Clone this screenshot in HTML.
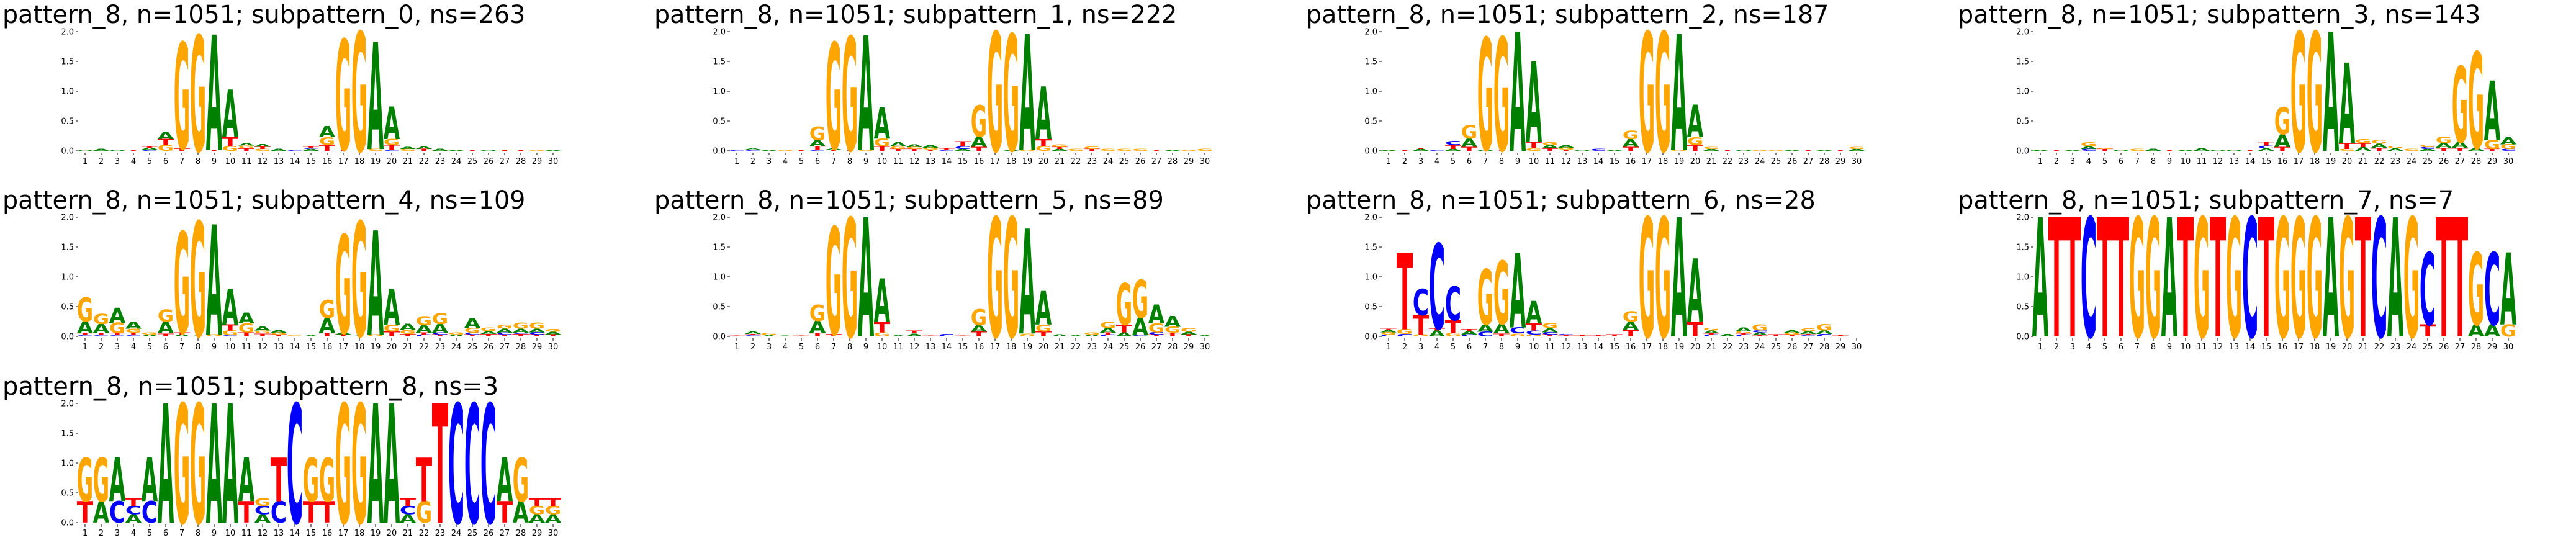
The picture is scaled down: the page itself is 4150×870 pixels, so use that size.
<!DOCTYPE html>
<html><head><meta charset="utf-8"><style>
html,body{margin:0;padding:0;background:#fff;}
svg{display:block;}
</style></head><body>
<svg id="chart" width="4150" height="870" viewBox="0 0 4150 870" xmlns="http://www.w3.org/2000/svg"></svg>
<script>
const titles = [
 "pattern_8, n=1051; subpattern_0, ns=263",
 "pattern_8, n=1051; subpattern_1, ns=222",
 "pattern_8, n=1051; subpattern_2, ns=187",
 "pattern_8, n=1051; subpattern_3, ns=143",
 "pattern_8, n=1051; subpattern_4, ns=109",
 "pattern_8, n=1051; subpattern_5, ns=89",
 "pattern_8, n=1051; subpattern_6, ns=28",
 "pattern_8, n=1051; subpattern_7, ns=7",
 "pattern_8, n=1051; subpattern_8, ns=3"
];
const positions = [1,2,3,4,5,6,7,8,9,10,11,12,13,14,15,16,17,18,19,20,21,22,23,24,25,26,27,28,29,30];
const yTicks = [0.0,0.5,1.0,1.5,2.0];
const yTickLabels = ["0.0","0.5","1.0","1.5","2.0"];
// stacks bottom-to-top, letter followed by height in bits
const logo0 = ["A.02","A.03","A.02","T.01","C.02A.03T.02","G.1T.1A.12","T.04G1.78","G1.94","T.02A1.93","G.08T.15A.8","T.04G.05A.04","G.03T.04A.05","A.03","C.02","A.03C.02T.02","T.1G.13A.19","T.02G1.85","G2.0","G.03A1.8","C.02T.08G.1A.55","G.03A.03","T.03A.04","A.03","A.01","T.01","A.02","T.01","T.02","G.02","A.01"];
const logo1 = ["C.02","C.02A.02","A.01","G.02","T.01","C.02T.06A.1G.22","T.02A.02G1.78","T.01G1.91","G.02A1.92","T.08G.13A.52","T.03G.05A.07","T.03G.03A.05","T.02G.03A.05","C.02T.02","A.03C.05T.08","T.07A.17G.53","G2.0","A.01G1.95","G.01A1.95","G.08T.12A.88","A.03T.03G.05","G.03","T.03G.04","G.03","G.03","G.03","T.02","A.01","G.02","G.03"];
const logo2 = ["A.01","T.01","A.03T.02","C.02","A.03T.07C.07","T.07A.14G.22","A.02G1.88","T.01G1.9","A2.0","G.05T.1A1.35","T.04A.06G.05","T.02G.03A.05","A.02","C.03","A.01","T.07A.13G.14","G2.0","G2.0","G.01A1.95","T.1G.13A.55","A.03G.03","T.01","A.02","G.02","G.02","A.01","T.01","A.01","T.02","A.03G.03"];
const logo3 = ["A.01","T.01","A.01","C.03A.05G.07","T.03G.02","A.02","G.03","A.03","T.02","A.01","A.05","A.02","A.02","T.02","A.04C.05T.07","T.07A.21G.45","G2.0","G2.0","A2.0","G.03T.1A1.35","A.06T.07G.07","T.05A.07G.07","A.04G.04","G.03","A.03C.03G.04","T.05A.08G.11","T.05A.1G1.27","A.05G1.61","T.03G.15A1.0","C.03G.08A.12"];
const logo4 = ["C.02T.03A.2G.4","C.02T.04A.15G.17","C.02T.03G.18A.25","C.02T.04G.07A.12","A.03G.03","T.05A.2G.2","A.03T.03G1.7","A.01G1.92","G.03A1.85","C.02G.08T.1A.6","T.07G.15A.18","T.05G.05A.07","T.03G.03A.05","G.02","A.02","T.06A.25G.3","T.03A.03G1.65","A.01G1.92","G.03A1.75","T.08G.12A.6","T.04G.07A.1","C.03T.03A.13G.15","T.03C.03A.15G.18","A.03G.03","T.03C.03G.08A.17","T.04A.05G.06","T.03C.03A.07G.07","T.04C.02A.07G.1","T.03C.04A.06G.1","T.03A.05G.05"];
const logo5 = ["T.01","C.02T.02A.04","A.02G.03","A.01","T.01","T.06A.2G.27","T.04G1.8","G1.99","A2.0","G.07T.17A.73","A.02","A.05T.05","T.01","C.04","T.01","T.08A.11G.27","G2.0","G2.0","G.05A1.76","T.08G.12A.56","A.03","A.02","A.03G.03","C.03T.03A.08G.1","A.07T.13G.7","C.02A.3G.63","T.03C.04G.15A.32","T.06G.1A.18","T.03A.05G.06","A.02"];
const logo6 = ["C.03G.04A.04T.02","C.04G.08T1.28","G.03T.33C.44","A.1T.03C1.43","G.06T.21C.57","C.03A.06T.03","C.08A.12G.93","T.05A.16G1.06","G.05C.1A1.25","G.03C.07T.12A.38","T.03C.04A.07G.08","T.02C.02","T.02","T.02","T.03","T.11A.14G.17","G2.0","G2.0","A2.0","T.24A1.07","C.03T.02A.05G.05","A.04","C.03T.02G.04A.06","T.02A.05C.03G.1","T.03","T.03G.03A.04","C.02T.02A.05G.05","C.04A.06G.11","T.02",""];
const logo7 = ["A2","T2","T2","C2","T2","T2","G2","G2","A2","T2","G2","T2","G2","C2","T2","G2","G2","G2","A2","G2","T2","C2","A2","G2","T.2C1.21","T2","T2","A.2G1.21","A.2C1.21","G.2A1.21"];
const logo8 = ["T.36G.73","A.36G.73","C.36A.73","A.14C.14T.13","C.36A.73","A2","G2","G2","A2","A2","T.36A.73","A.14C.14G.13","C.36T.73","C2","T.36G.73","T.36G.73","G2","G2","A2","A2","A.14C.14T.13","G.36T.73","T2","C2","C2","C2","T.36A.73","A.36G.73","A.14G.14T.13","A.14G.14T.13"];
const logos = [logo0,logo1,logo2,logo3,logo4,logo5,logo6,logo7,logo8];

const NS="http://www.w3.org/2000/svg";
const svg=document.getElementById('chart');
const colors={A:"#008000",C:"#0000ff",G:"#ffa500",T:"#ff0000"};
const colW=1050, axisTops=[51,350,650], plotH=192, x1=137, step=26.0, letterW=24;
function mk(tag,attrs,parent){const e=document.createElementNS(NS,tag);for(const k in attrs)e.setAttribute(k,attrs[k]);parent.appendChild(e);return e;}
function xScale(col,pos){return col*colW+x1+(pos-1)*step;}
function yScale(row,v){return axisTops[row]+plotH-v/2*plotH;}

logos.forEach((logo,p)=>{
  const col=p%4,row=Math.floor(p/4);
  const g=mk('g',{},svg);
  
  
  const t=mk('text',{x:col*colW+4,y:axisTops[row]-14,'font-family':'DejaVu Sans, Liberation Sans, sans-serif','font-size':40,fill:'#000',textLength:titles[p].length*21.6,lengthAdjust:'spacingAndGlyphs'},g);
  
  
  t.textContent=titles[p];
  yTicks.forEach((v,i)=>{
    const y=yScale(row,v);
    const tk=mk('line',{x1:col*colW+122,x2:col*colW+126,y1:y,y2:y,stroke:'#000','stroke-width':1},g);
    
    
    const lb=mk('text',{x:col*colW+119,y:y+4.5,'text-anchor':'end','font-family':'DejaVu Sans, sans-serif','font-size':13},g);
    
    
    lb.textContent=yTickLabels[i];
  });
  positions.forEach((pos,i)=>{
    const x=xScale(col,pos), yb=yScale(row,0);
    const tk=mk('line',{x1:x,x2:x,y1:yb+3,y2:yb+7,stroke:'#000','stroke-width':1},g);
    
    
    const lb=mk('text',{x:x,y:yb+21,'text-anchor':'middle','font-family':'DejaVu Sans, sans-serif','font-size':13},g);
    
    
    lb.textContent=String(pos);
    const stack=logo[i]||"";
    const re=/([ACGT])([\d.]+)/g; let m, acc=0;
    while((m=re.exec(stack))){
      const letter=m[1], h=parseFloat(m[2]);
      const ybase=yScale(row,acc), hpx=h/2*plotH;
      acc+=h;
      if(hpx<0.5) continue;
      const L=mk('text',{x:0,y:0,'font-family':'DejaVu Sans, sans-serif','font-weight':'bold','font-size':100,fill:colors[letter],textLength:letterW*1.1,lengthAdjust:'spacingAndGlyphs',transform:`translate(${x-letterW*0.55},${ybase}) scale(1,${hpx/72.9})`},g);
      
      
      L.textContent=letter;
    }
  });
});
</script>
</body></html>
